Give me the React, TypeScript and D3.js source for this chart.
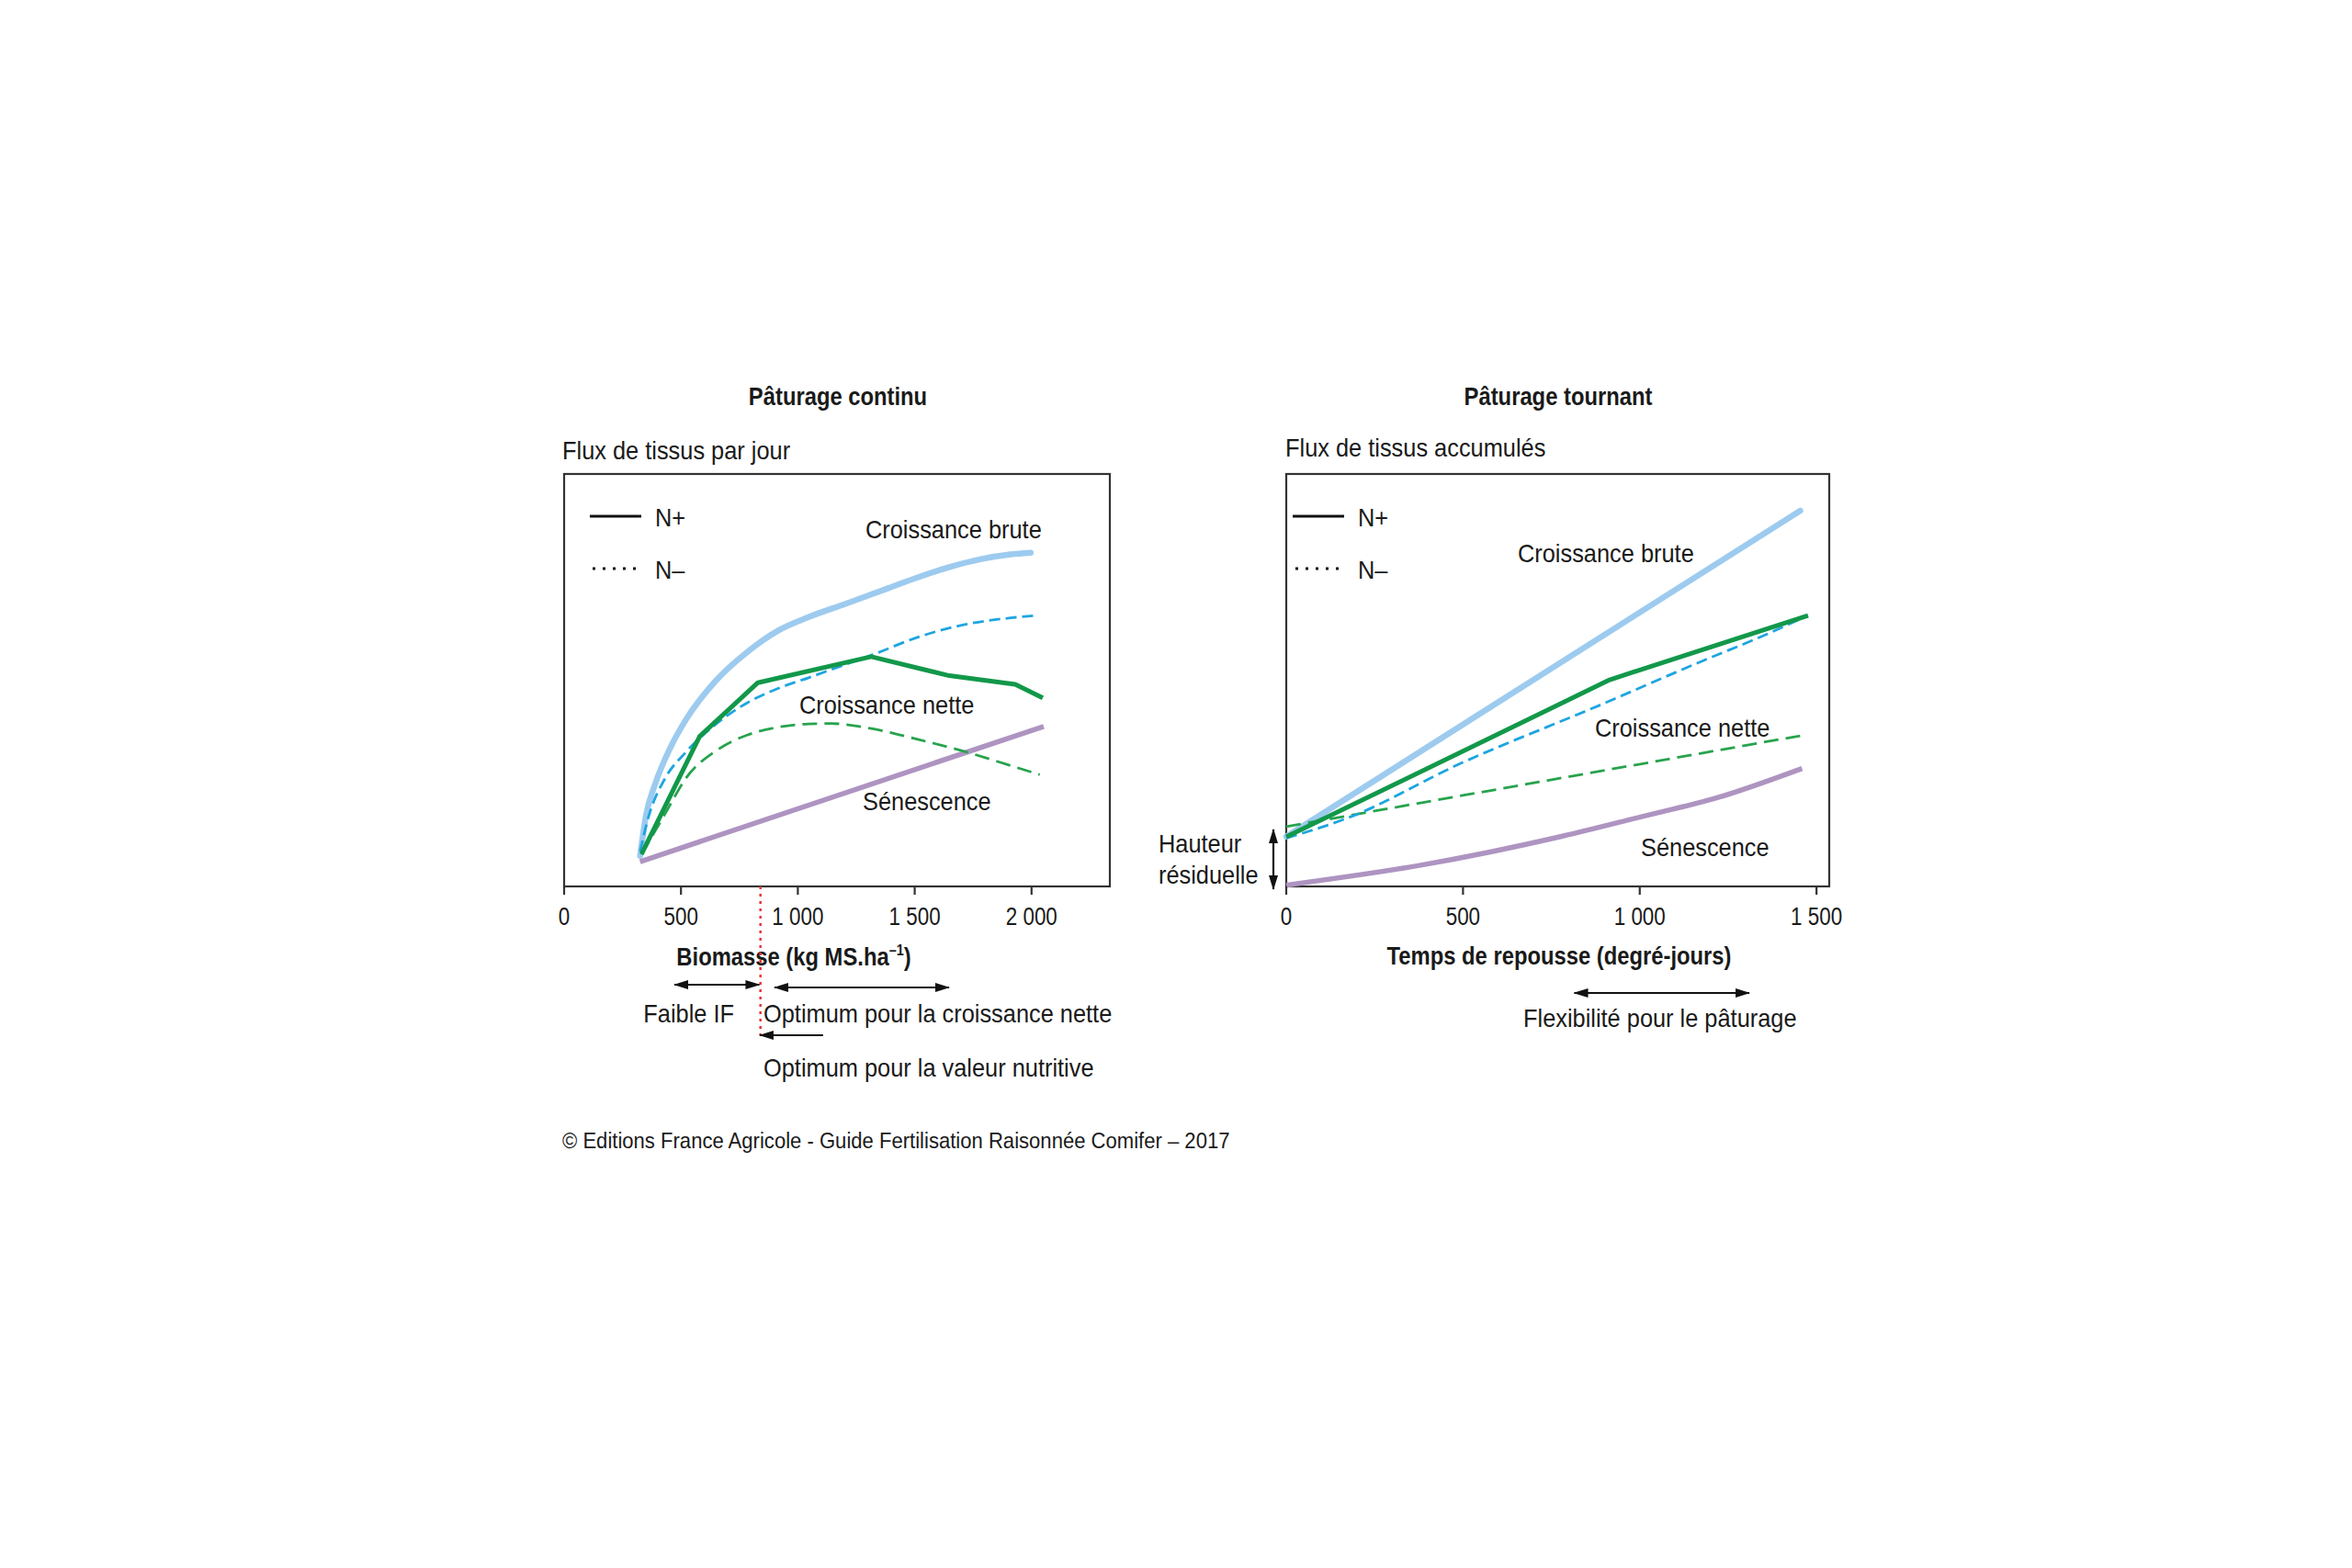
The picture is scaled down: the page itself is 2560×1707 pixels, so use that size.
import * as d3 from "d3";
import type { ReactNode } from "react";

// ---- data ----
// left panel : Pâturage continu (x = biomasse kg MS/ha, y = flux relatif 0-100)
const contBruteNpX = [325, 351, 390, 456, 522, 653, 783, 915, 1046, 1203, 1386, 1517, 1648, 1780, 1910, 1996];
const contBruteNpY = [7.4, 17.4, 24.9, 33.8, 40.5, 50.1, 56.8, 62.0, 65.3, 68.5, 72.3, 75.0, 77.4, 79.3, 80.5, 80.9];
const contBruteNmX = [325, 364, 430, 522, 653, 783, 915, 1046, 1203, 1321, 1517, 1714, 1910, 2028];
const contBruteNmY = [8.5, 17.4, 26.0, 32.6, 39.5, 44.5, 48.0, 50.6, 53.8, 56.2, 60.5, 63.5, 65.1, 65.7];
const contNetteNpX = [331, 580, 829, 1314, 1517, 1648, 1930, 2048];
const contNetteNpY = [7.8, 36.4, 49.4, 55.7, 52.9, 51.1, 49.0, 45.7];
const contNetteNmX = [331, 430, 522, 653, 783, 915, 1046, 1140, 1321, 1517, 1714, 1910, 2035];
const contNetteNmY = [7.8, 17.4, 26.3, 33.0, 36.7, 38.6, 39.4, 39.5, 38.2, 35.6, 32.7, 29.3, 27.1];
const contSenX = [325, 2052];
const contSenY = [6.0, 38.8];
const contTicks = [0, 500, 1000, 1500, 2000];
const contOptimum = 840; // red dotted line
const faibleIF = [472, 835];
const optNette = [900, 1647];
const optNutri = [837, 1108];

// right panel : Pâturage tournant (x = degré-jours)
const tourBruteX = [0, 1454];
const tourBruteY = [12.1, 91.1];
const tourBruteNmX = [0, 186, 485, 883, 1181, 1350, 1476];
const tourBruteNmY = [11.7, 17.0, 29.5, 43.8, 54.8, 60.8, 65.7];
const tourNetteNpX = [0, 524, 915, 1476];
const tourNetteNpY = [12.0, 33.8, 50.1, 65.7];
const tourNetteNmX = [0, 1459];
const tourNetteNmY = [14.5, 36.6];
const tourSenX = [0, 384, 782, 1000, 1219, 1459];
const tourSenY = [0.3, 5.2, 12.2, 16.8, 21.5, 28.6];
const tourTicks = [0, 500, 1000, 1500];
const flexibilite = [815, 1310];

const FONT = "'Liberation Sans', Arial, sans-serif";
const C = {
  brute: "#9dcbef",
  bruteN: "#1ea5e0",
  nette: "#12984a",
  netteN: "#27a34d",
  sen: "#ae94c1",
  red: "#e8343a",
  ink: "#1a1a1a",
  box: "#333",
};

const fmt = d3
  .formatLocale({ decimal: ",", thousands: " ", grouping: [3], currency: ["", ""] })
  .format(",");

const yScale = d3.scaleLinear().domain([0, 100]).range([965, 516]);
const xCont = d3.scaleLinear().domain([0, 2335]).range([614, 1208]);
const xTour = d3.scaleLinear().domain([0, 1536]).range([1400, 1991]);

type Pt = [number, number];
const zip = (xs: number[], ys: number[]): Pt[] => xs.map((x, i) => [x, ys[i]]);

function path(x: d3.ScaleLinear<number, number>, xs: number[], ys: number[], curve: d3.CurveFactory) {
  return (
    d3
      .line<Pt>()
      .x((d) => x(d[0]))
      .y((d) => yScale(d[1]))
      .curve(curve)(zip(xs, ys)) || ""
  );
}

// condensed text: the original face is a condensed grotesque, so squeeze Liberation Sans
function T({
  x, y, children, size = 27, sx = 0.94, weight = 400, anchor = "start",
}: {
  x: number; y: number; children: ReactNode; size?: number; sx?: number; weight?: number;
  anchor?: "start" | "middle" | "end";
}) {
  return (
    <text
      transform={`translate(${x},${y}) scale(${sx},1)`}
      textAnchor={anchor}
      fontFamily={FONT}
      fontSize={size}
      fontWeight={weight}
      fill={C.ink}
    >
      {children}
    </text>
  );
}

function Legend({ x0 }: { x0: number }) {
  return (
    <g>
      <line x1={x0} x2={x0 + 56} y1={562} y2={562} stroke="#111" strokeWidth={3} />
      <T x={x0 + 71} y={573}>N+</T>
      <line x1={x0 + 3} x2={x0 + 50} y1={619} y2={619} stroke="#111" strokeWidth={3} strokeDasharray="3,8" />
      <T x={x0 + 71} y={630}>N–</T>
    </g>
  );
}

function Axis({ x, ticks }: { x: d3.ScaleLinear<number, number>; ticks: number[] }) {
  return (
    <g>
      {ticks.map((t) => (
        <g key={t}>
          <line x1={x(t)} x2={x(t)} y1={965} y2={974} stroke={C.box} strokeWidth={2.2} />
          <T x={x(t)} y={1007} anchor="middle" sx={0.83}>{fmt(t)}</T>
        </g>
      ))}
    </g>
  );
}

export default function App() {
  const [xl0, xl1] = xCont.range();
  const [xr0, xr1] = xTour.range();
  const [yb, yt] = yScale.range();
  return (
    <svg
      width={2560}
      height={1707}
      style={{ position: "absolute", left: 0, top: 0, background: "#fff" }}
    >
      <defs>
        <marker id="ah" viewBox="0 0 16 10" refX={15} refY={5} markerWidth={16} markerHeight={10}
          markerUnits="userSpaceOnUse" orient="auto-start-reverse">
          <path d="M0,0 L16,5 L0,10 Z" fill="#111" />
        </marker>
      </defs>

      {/* ---------- left panel ---------- */}
      <T x={912} y={441} anchor="middle" size={28} sx={0.85} weight={700}>Pâturage continu</T>
      <T x={612} y={500}>Flux de tissus par jour</T>
      <rect x={xl0} y={yt} width={xl1 - xl0} height={yb - yt} fill="none" stroke={C.box} strokeWidth={2.2} />
      <Legend x0={642} />

      <path d={path(xCont, contBruteNpX, contBruteNpY, d3.curveMonotoneX)} fill="none" stroke={C.brute} strokeWidth={6.5} strokeLinecap="round" />
      <path d={path(xCont, contSenX, contSenY, d3.curveLinear)} fill="none" stroke={C.sen} strokeWidth={5.5} />
      <path d={path(xCont, contNetteNmX, contNetteNmY, d3.curveMonotoneX)} fill="none" stroke={C.netteN} strokeWidth={2.8} strokeDasharray="16,8" />
      <path d={path(xCont, contBruteNmX, contBruteNmY, d3.curveMonotoneX)} fill="none" stroke={C.bruteN} strokeWidth={2.8} strokeDasharray="12,6" />
      <path d={path(xCont, contNetteNpX, contNetteNpY, d3.curveLinear)} fill="none" stroke={C.nette} strokeWidth={5} strokeLinejoin="round" />

      <T x={942} y={586}>Croissance brute</T>
      <T x={870} y={777}>Croissance nette</T>
      <T x={939} y={882}>Sénescence</T>

      <Axis x={xCont} ticks={contTicks} />
      <T x={864} y={1051} anchor="middle" size={28} sx={0.85} weight={700}>
        Biomasse (kg MS.ha
        <tspan fontSize={17} dy={-11}>–1</tspan>
        <tspan dy={11}>)</tspan>
      </T>

      <line x1={xCont(contOptimum)} x2={xCont(contOptimum)} y1={yb} y2={1127} stroke={C.red} strokeWidth={2.5} strokeDasharray="3,5" />
      <line x1={xCont(faibleIF[0])} x2={xCont(faibleIF[1])} y1={1072} y2={1072} stroke="#111" strokeWidth={2.2}
        markerStart="url(#ah)" markerEnd="url(#ah)" />
      <line x1={xCont(optNette[0])} x2={xCont(optNette[1])} y1={1075} y2={1075} stroke="#111" strokeWidth={2.2}
        markerStart="url(#ah)" markerEnd="url(#ah)" />
      <line x1={xCont(optNutri[1])} x2={xCont(optNutri[0])} y1={1127} y2={1127} stroke="#111" strokeWidth={2.2}
        markerEnd="url(#ah)" />
      <T x={799} y={1113} anchor="end">Faible IF</T>
      <T x={831} y={1113}>Optimum pour la croissance nette</T>
      <T x={831} y={1172}>Optimum pour la valeur nutritive</T>

      {/* ---------- right panel ---------- */}
      <T x={1696} y={441} anchor="middle" size={28} sx={0.85} weight={700}>Pâturage tournant</T>
      <T x={1399} y={497}>Flux de tissus accumulés</T>
      <rect x={xr0} y={yt} width={xr1 - xr0} height={yb - yt} fill="none" stroke={C.box} strokeWidth={2.2} />
      <Legend x0={1407} />

      <path d={path(xTour, tourSenX, tourSenY, d3.curveMonotoneX)} fill="none" stroke={C.sen} strokeWidth={5.5} />
      <path d={path(xTour, tourBruteX, tourBruteY, d3.curveLinear)} fill="none" stroke={C.brute} strokeWidth={6.5} strokeLinecap="round" />
      <path d={path(xTour, tourNetteNmX, tourNetteNmY, d3.curveLinear)} fill="none" stroke={C.netteN} strokeWidth={2.8} strokeDasharray="16,8" />
      <path d={path(xTour, tourBruteNmX, tourBruteNmY, d3.curveMonotoneX)} fill="none" stroke={C.bruteN} strokeWidth={2.8} strokeDasharray="12,6" />
      <path d={path(xTour, tourNetteNpX, tourNetteNpY, d3.curveLinear)} fill="none" stroke={C.nette} strokeWidth={5} strokeLinejoin="round" />

      <T x={1652} y={612}>Croissance brute</T>
      <T x={1736} y={802}>Croissance nette</T>
      <T x={1786} y={932}>Sénescence</T>

      <T x={1261} y={928}>Hauteur</T>
      <T x={1261} y={962}>résiduelle</T>
      <line x1={1386} x2={1386} y1={903} y2={968} stroke="#111" strokeWidth={2.2}
        markerStart="url(#ah)" markerEnd="url(#ah)" />

      <Axis x={xTour} ticks={tourTicks} />
      <T x={1697} y={1050} anchor="middle" size={28} sx={0.85} weight={700}>Temps de repousse (degré-jours)</T>
      <line x1={xTour(flexibilite[0])} x2={xTour(flexibilite[1])} y1={1081} y2={1081} stroke="#111" strokeWidth={2.2}
        markerStart="url(#ah)" markerEnd="url(#ah)" />
      <T x={1658} y={1118}>Flexibilité pour le pâturage</T>

      <T x={612} y={1250} size={24} sx={0.92}>
        © Editions France Agricole - Guide Fertilisation Raisonnée Comifer – 2017
      </T>
    </svg>
  );
}
